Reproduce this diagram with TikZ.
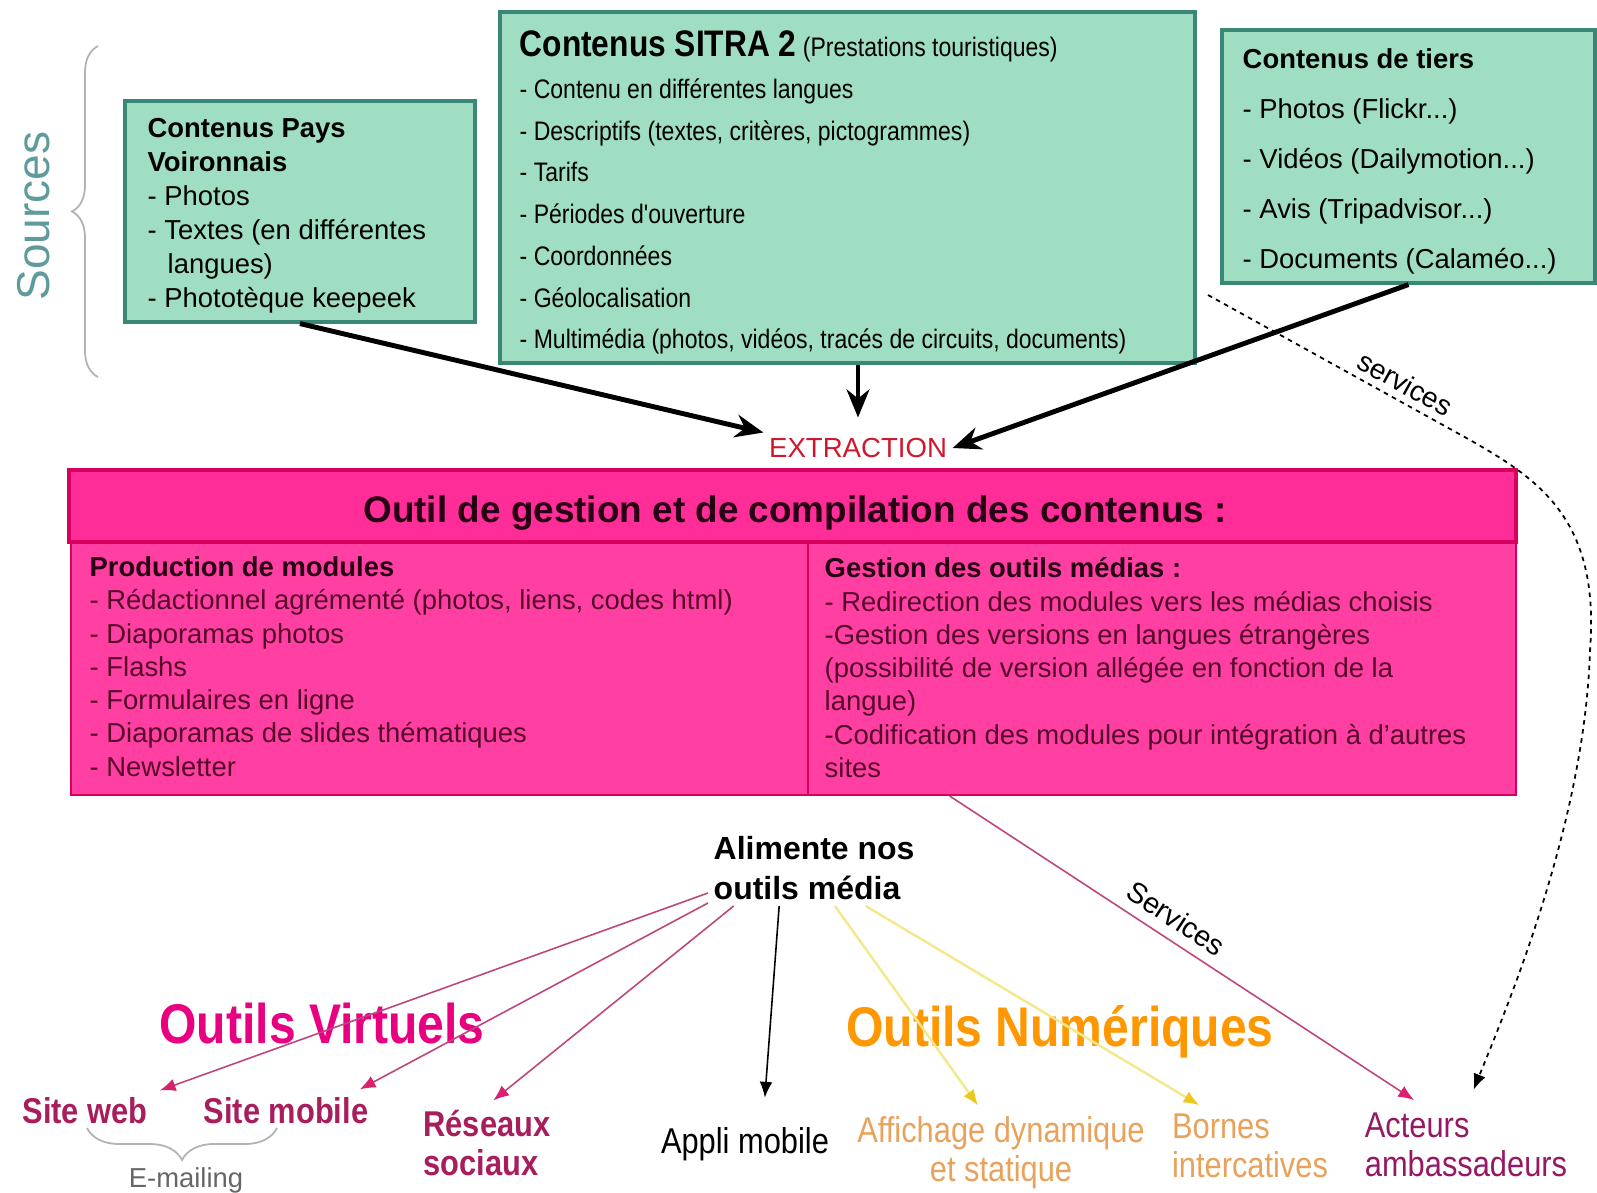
\documentclass[tikz,border=0pt]{standalone}
\usepackage{fontspec}
\setmainfont{Liberation Sans}
\newfontfamily\narrowfont[FakeStretch=0.86]{Liberation Sans}
\usepackage{xcolor}
\usetikzlibrary{arrows.meta,decorations.pathreplacing}
\definecolor{srcfill}{RGB}{160,222,196}
\definecolor{srcline}{RGB}{58,135,118}
\definecolor{srccol}{RGB}{95,155,155}
\definecolor{gestfill}{RGB}{255,64,162}
\definecolor{gesthead}{RGB}{255,45,152}
\definecolor{gestline}{RGB}{215,0,95}
\definecolor{gesttext}{RGB}{85,8,42}
\definecolor{gesttitle}{RGB}{40,0,20}
\definecolor{extred}{RGB}{205,25,45}
\definecolor{virtcol}{RGB}{232,0,128}
\definecolor{numcol}{RGB}{255,152,0}
\definecolor{webcol}{RGB}{168,30,92}
\definecolor{numtext}{RGB}{232,162,92}
\definecolor{actcol}{RGB}{150,24,100}
\definecolor{linkpink}{RGB}{190,70,125}
\definecolor{headpink}{RGB}{215,35,110}
\definecolor{linkyel}{RGB}{245,232,140}
\definecolor{headyel}{RGB}{236,200,30}

\begin{document}
\begin{tikzpicture}[
  srcbox/.style={draw=srcline, line width=0.9pt, fill=srcfill},
  gestbox/.style={draw=gestline, line width=0.6pt, fill=gestfill},
  list/.style={anchor=north west, inner sep=0pt, align=left},
  feed/.style={line width=1.4pt, -{Stealth[length=8pt,width=6.5pt]}},
  tool/.style={line width=0.45pt, shorten >=0.08cm, -{Latex[length=4.5pt,width=3.6pt]}},
  pinktool/.style={tool, draw=linkpink, -{Latex[length=4.5pt,width=3.6pt,color=headpink]}},
  yeltool/.style={tool, line width=0.7pt, draw=linkyel, -{Latex[length=4.5pt,width=3.6pt,color=headyel]}},
  srvline/.style={line width=0.5pt, dash pattern=on 1.3pt off 1.3pt, shorten >=0.2cm, -{Latex[length=4.5pt,width=3.6pt]}},
  lab/.style={inner sep=0.04cm, align=left, font=\narrowfont\fontsize{10.2}{11.1}\selectfont},
  labb/.style={lab, font=\narrowfont\bfseries\fontsize{10.2}{11.1}\selectfont},
  big/.style={font=\narrowfont\bfseries\fontsize{15.9}{18}\selectfont}]
  \path[use as bounding box, fill=white] (0,0) rectangle (15.97,-11.92);
  \node[rotate=90, text=srccol, font=\fontsize{13.1}{15}\selectfont] (srclab) at (0.34,-2.16) {Sources};
  \draw[gray!60, line width=0.5pt, decorate, decoration={brace, amplitude=0.26cm}] (0.98,-3.77) -- (0.98,-0.46);
  \node[srcbox, minimum width=3.5cm, minimum height=2.21cm] (voir) at (3.0,-2.115) {};
  \node[srcbox, minimum width=6.95cm, minimum height=3.51cm] (sitra) at (8.475,-1.875) {};
  \node[srcbox, minimum width=3.73cm, minimum height=2.53cm] (tiers) at (14.085,-1.565) {};
  \node[list, font=\fontsize{7.8}{9.67}\selectfont] (voirtxt) at (1.47,-1.18)
    {\textbf{Contenus Pays}\\ \textbf{Voironnais}\\ - Photos\\ - Textes (en différentes\\ \hspace*{0.2cm}langues)\\ - Phototèque keepeek};
  \node[list, font=\narrowfont\fontsize{7.62}{11.89}\selectfont] (sitratxt) at (5.19,-0.30)
    {{\bfseries\fontsize{10.5}{11.89}\selectfont Contenus SITRA 2} (Prestations touristiques)\\
     - Contenu en différentes langues\\
     - Descriptifs (textes, critères, pictogrammes)\\
     - Tarifs\\
     - Périodes d'ouverture\\
     - Coordonnées\\
     - Géolocalisation\\
     - Multimédia (photos, vidéos, tracés de circuits, documents)};
  \node[list, font=\fontsize{7.8}{14.2}\selectfont] (tierstxt) at (12.42,-0.48)
    {\textbf{Contenus de tiers}\\ - Photos (Flickr...)\\ - Vidéos (Dailymotion...)\\ - Avis (Tripadvisor...)\\ - Documents (Calaméo...)};
  \node[text=extred, inner sep=0.05cm, font=\fontsize{7.85}{9}\selectfont] (extr) at (8.58,-4.48) {EXTRACTION};
  \node[gestbox, minimum width=7.37cm, minimum height=2.53cm] (prod) at (4.395,-6.685) {};
  \node[gestbox, minimum width=7.08cm, minimum height=2.53cm] (gest) at (11.62,-6.685) {};
  \node[gestbox, line width=1.1pt, fill=gesthead, minimum width=14.47cm, minimum height=0.72cm] (outil) at (7.925,-5.06) {};
  \node[text=gesttitle, font=\bfseries\fontsize{10.5}{12}\selectfont] (outiltxt) at (7.95,-5.13)
    {Outil de gestion et de compilation des contenus :};
  \node[list, text=gesttext, font=\fontsize{7.8}{9.47}\selectfont] (prodtxt) at (0.89,-5.56)
    {\textcolor{gesttitle}{\bfseries Production de modules}\\
     - Rédactionnel agrémenté (photos, liens, codes html)\\
     - Diaporamas photos\\
     - Flashs\\
     - Formulaires en ligne\\
     - Diaporamas de slides thématiques\\
     - Newsletter};
  \node[list, text=gesttext, font=\fontsize{7.8}{9.47}\selectfont] (gesttxt) at (8.24,-5.57)
    {\textcolor{gesttitle}{\bfseries Gestion des outils médias :}\\
     - Redirection des modules vers les médias choisis\\
     -Gestion des versions en langues étrangères\\
     (possibilité de version allégée en fonction de la\\
     langue)\\
     -Codification des modules pour intégration à d'autres\\
     sites};
  \node[anchor=north west, inner sep=0.05cm, align=left, font=\bfseries\fontsize{9.1}{11.4}\selectfont] (alim) at (7.08,-8.31)
    {Alimente nos\\ outils média};
  \node[big, text=virtcol] (virt) at (3.22,-10.24) {Outils Virtuels};
  \node[big, text=numcol] (num) at (10.60,-10.32) {Outils Numériques};
  \node[labb, text=webcol] (web) at (0.85,-11.11) {Site web};
  \node[labb, text=webcol] (mob) at (2.86,-11.11) {Site mobile};
  \node[labb, text=webcol] (reso) at (4.87,-11.43) {Réseaux\\ sociaux};
  \node[lab] (appli) at (7.45,-11.44) {Appli mobile};
  \node[lab, align=center, text=numtext] (affich) at (10.01,-11.53) {Affichage dynamique\\ et statique};
  \node[lab, text=numtext] (bornes) at (12.50,-11.46) {Bornes\\ intercatives};
  \node[lab, text=actcol] (acteurs) at (14.66,-11.45) {Acteurs\\ ambassadeurs};
  \draw[gray!60, line width=0.5pt, decorate, decoration={brace, amplitude=0.32cm}] (2.77,-11.28) -- (0.87,-11.28);
  \node[text=black!60, font=\fontsize{7.8}{9}\selectfont] (mail) at (1.86,-11.80) {E-mailing};
  \draw[feed] (voir.south) -- (extr.north west);
  \draw[feed, shorten >=0.15cm] (extr.north |- sitra.south) -- (extr.north);
  \draw[feed] (tiers.south) -- (extr.east);
  \coordinate (srv) at (12.08,-2.95);
  \coordinate (bend) at (14.70,-4.40);
  \draw[srvline] (srv) -- node[pos=0.72, sloped, above, inner sep=2pt, font=\fontsize{8}{9}\selectfont] (srvlab) {services} (bend)
    .. controls (15.40,-4.80) and (16.00,-5.20) .. (15.90,-6.50)
    .. controls (15.85,-8.20) and (15.10,-10.00) .. (acteurs.north);
  \draw[pinktool, shorten >=0.15cm] (gest.211) -- node[pos=0.45, sloped, above, inner sep=3pt, font=\fontsize{8.2}{9}\selectfont] (svclab) {Services} (acteurs.137);
  \draw[pinktool] (alim.193) -- (web.north east);
  \draw[pinktool] (alim.198) -- (mob.15);
  \draw[pinktool] (alim.205) -- (reso.north);
  \draw[tool, shorten >=0.25cm] (alim.227) -- (appli.50);
  \draw[yeltool] (alim.299) -- (affich.114);
  \draw[yeltool] (alim.324) -- (bornes.140);
\end{tikzpicture}
\end{document}
